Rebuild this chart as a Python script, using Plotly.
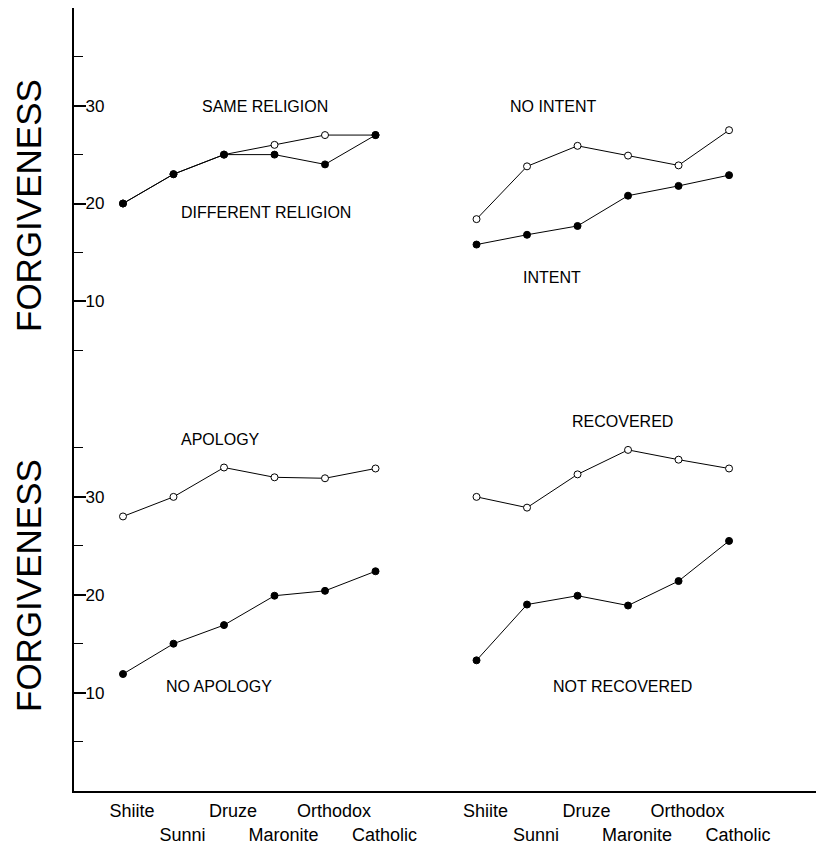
import plotly.graph_objects as go

W, H = 824, 846
OFF = 8  # page body margin offset

# ---- data ----
groups = ["Shiite", "Sunni", "Druze", "Maronite", "Orthodox", "Catholic"]
left_pos = [0, 1, 2, 3, 4, 5]
right_pos = [7, 8, 9, 10, 11, 12]

same_religion = [20, 23, 25, 26, 27, 27]
different_religion = [20, 23, 25, 25, 24, 27]
no_intent = [18.4, 23.8, 25.9, 24.9, 23.9, 27.5]
intent = [15.8, 16.8, 17.7, 20.8, 21.8, 22.9]
apology = [28, 30, 33, 32, 31.9, 32.9]
no_apology = [11.9, 15, 16.9, 19.9, 20.4, 22.4]
recovered = [30, 28.9, 32.3, 34.8, 33.8, 32.9]
not_recovered = [13.3, 19, 19.9, 18.9, 21.4, 25.5]

y_major = [10, 20, 30]
y_minor = [5, 15, 25, 35]

tick_labels = ["Shiite", "<br>Sunni", "Druze", "<br>Maronite", "Orthodox", "<br>Catholic"]

FONT = "Liberation Sans, Arial, Helvetica, sans-serif"


def px_x(x):
    return (x - OFF) / W


def px_y(y):
    return min(1.0, 1 - (y - OFF) / H)


fig = go.Figure()


def add_series(xs, ys, filled, xa, ya):
    fig.add_trace(go.Scatter(
        x=xs, y=ys, mode="lines+markers", xaxis=xa, yaxis=ya,
        line=dict(color="black", width=1),
        marker=dict(symbol="circle", size=7,
                    color="black" if filled else "white",
                    line=dict(color="black", width=1)),
        showlegend=False, hoverinfo="x+y"))


# top panels (open first so filled markers lie on top)
add_series(left_pos, same_religion, False, "x2", "y2")
add_series(left_pos, different_religion, True, "x2", "y2")
add_series(right_pos, no_intent, False, "x2", "y2")
add_series(right_pos, intent, True, "x2", "y2")
# bottom panels
add_series(left_pos, apology, False, "x", "y")
add_series(left_pos, no_apology, True, "x", "y")
add_series(right_pos, recovered, False, "x", "y")
add_series(right_pos, not_recovered, True, "x", "y")

x_dom = [px_x(74), px_x(824)]
x_range = [-0.97, 13.88]
split = px_y(399)

yaxis_common = dict(
    range=[0, 40], showgrid=False, zeroline=False, showline=True,
    linecolor="black", linewidth=2, automargin=False,
    tickmode="array", tickvals=y_major, ticktext=[str(v) for v in y_major],
    ticks="inside", ticklen=12, tickwidth=1.5, tickcolor="black",
    ticklabelposition="inside",
    tickfont=dict(family=FONT, size=17, color="black"),
    minor=dict(tickmode="array", tickvals=y_minor, ticks="inside",
               ticklen=9, tickwidth=1, tickcolor="black"),
    fixedrange=True,
)

fig.update_layout(
    width=W, height=H,
    margin=dict(l=0, r=0, t=0, b=0, autoexpand=False),
    paper_bgcolor="white", plot_bgcolor="white",
    xaxis=dict(domain=x_dom, range=x_range, anchor="y",
               showgrid=False, zeroline=False, showline=True,
               linecolor="black", linewidth=2, automargin=False,
               tickmode="array",
               tickvals=left_pos + right_pos,
               ticktext=tick_labels + tick_labels,
               tickangle=0,
               ticks="", ticklabelshift=9, ticklabelstandoff=3,
               tickfont=dict(family=FONT, size=18, color="black"),
               fixedrange=True),
    xaxis2=dict(domain=x_dom, range=x_range, anchor="y2",
                matches="x", visible=False, fixedrange=True),
    yaxis=dict(domain=[px_y(790.5), split], anchor="x", **yaxis_common),
    yaxis2=dict(domain=[split, px_y(7)], anchor="x2", **yaxis_common),
)

labels = [
    ("SAME RELIGION", 265, 106),
    ("DIFFERENT RELIGION", 266, 212),
    ("NO INTENT", 553, 106),
    ("INTENT", 552, 277),
    ("APOLOGY", 220, 439),
    ("NO APOLOGY", 219, 686),
    ("RECOVERED", 622, 421),
    ("NOT RECOVERED", 622, 686),
]
for text, x, y in labels:
    fig.add_annotation(text=text, x=px_x(x), y=px_y(y), xref="paper", yref="paper",
                       showarrow=False, xanchor="center", yanchor="middle",
                       font=dict(family=FONT, size=16, color="black"))

for y in (206, 586):
    fig.add_annotation(text="FORGIVENESS", x=px_x(28), y=px_y(y), xref="paper", yref="paper",
                       showarrow=False, textangle=-90, xanchor="center", yanchor="middle",
                       font=dict(family=FONT, size=35, color="black"))

fig.write_html("out.html")
